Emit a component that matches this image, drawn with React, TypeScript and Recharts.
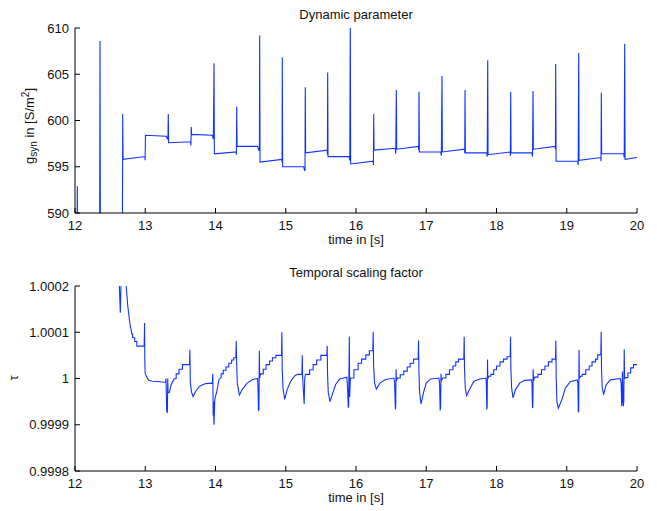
import React from "react";
import { LineChart, Line, XAxis, YAxis } from "recharts";

// two stacked panels: g_syn and tau over time, MATLAB-style boxed axes

const X_TICKS = [12, 13, 14, 15, 16, 17, 18, 19, 20];
const GSYN_TICKS = [590, 595, 600, 605, 610];
const TAU_TICKS = [0.9998, 0.9999, 1, 1.0001, 1.0002];

// [time s, g_syn S/m^2]
const gsynPoints: [number, number][] = [
  [12.0, 584], [12.028, 584], [12.033, 592.9], [12.038, 584],
  [12.35, 584], [12.356, 608.6], [12.362, 584],
  [12.674, 584], [12.679, 600.7], [12.684, 595.8],
  [12.995, 596.1], [12.998, 595.7], [13.003, 598.4],
  [13.3, 598.3], [13.315, 598.0], [13.323, 598.0], [13.328, 600.7], [13.333, 597.6],
  [13.645, 597.7], [13.65, 597.3], [13.655, 599.3], [13.66, 598.5],
  [13.955, 598.4], [13.97, 598.0], [13.979, 606.2], [13.984, 596.4],
  [14.295, 596.6], [14.298, 596.3], [14.302, 601.5], [14.307, 597.2],
  [14.6, 597.2], [14.615, 596.8], [14.625, 596.8], [14.629, 609.2], [14.634, 595.5],
  [14.945, 595.8], [14.948, 595.5], [14.951, 606.8], [14.956, 595.0],
  [15.255, 595.0], [15.268, 594.6], [15.274, 594.6], [15.278, 603.6], [15.283, 596.5],
  [15.59, 596.8], [15.593, 596.3], [15.597, 605.2], [15.602, 596.1],
  [15.9, 596.1], [15.912, 595.7], [15.919, 611], [15.924, 595.3],
  [16.245, 595.6], [16.248, 595.2], [16.252, 600.7], [16.257, 596.8],
  [16.56, 597.0], [16.566, 596.4], [16.574, 603.3], [16.579, 596.9],
  [16.89, 597.2], [16.893, 596.8], [16.897, 603.1], [16.902, 596.6],
  [17.205, 596.6], [17.215, 596.2], [17.224, 604.8], [17.229, 596.6],
  [17.545, 596.9], [17.548, 596.5], [17.552, 603.3], [17.557, 596.5],
  [17.86, 596.5], [17.868, 596.1], [17.875, 606.5], [17.88, 596.3],
  [18.195, 596.6], [18.198, 596.2], [18.202, 603.1], [18.207, 596.5],
  [18.505, 596.5], [18.513, 596.1], [18.52, 603.2], [18.525, 596.9],
  [18.835, 597.2], [18.839, 596.9], [18.843, 606.1], [18.848, 595.6],
  [19.155, 595.6], [19.163, 595.2], [19.17, 607.3], [19.175, 595.7],
  [19.485, 596.0], [19.488, 595.6], [19.492, 603.0], [19.497, 596.4],
  [19.81, 596.4], [19.818, 596.0], [19.825, 608.3], [19.83, 595.8],
  [20.0, 596.0],
];

// [time s, tau]
const tauPoints: [number, number][] = [
  [12.0, 1.0004], [12.62, 1.0003], [12.632, 1.0002], [12.645, 1.000142], [12.655, 1.0002],
  [12.665, 1.0003], [12.715, 1.0003], [12.728, 1.0002], [12.75, 1.000159], [12.78, 1.00012],
  [12.81, 1.000096], [12.82, 1.000096], [12.82, 1.000088], [12.85, 1.000088], [12.85, 1.00008],
  [12.88, 1.00008], [12.88, 1.00007], [12.985, 1.00007],
  [12.99, 1.00012], [12.994, 1.00004], [12.998, 1.000012], [13.02, 1.000003], [13.05, 0.999996],
  [13.1, 0.999994], [13.29, 0.999992],
  [13.295, 1.0], [13.305, 0.99993], [13.315, 0.999926], [13.32, 1.0], [13.325, 0.99997],
  [13.34, 0.999969], [13.37, 0.999987], [13.41, 0.999999], [13.44, 1.0], [13.44, 1.00001],
  [13.48, 1.00001], [13.48, 1.00002], [13.53, 1.00002], [13.53, 1.00003], [13.63, 1.00003],
  [13.635, 1.000062], [13.642, 0.99999], [13.66, 0.99997], [13.68, 0.999961], [13.72, 0.999973],
  [13.78, 0.999984], [13.86, 0.999989], [13.955, 0.99999],
  [13.962, 1.00001], [13.967, 0.99992], [13.972, 0.99995], [13.978, 0.9999], [13.984, 0.999925],
  [13.99, 0.999955], [14.02, 0.999973], [14.05, 0.999998], [14.08, 1.000002], [14.08, 1.00001],
  [14.11, 1.00001], [14.11, 1.000018], [14.15, 1.000018], [14.15, 1.000025], [14.19, 1.000025],
  [14.19, 1.000033], [14.23, 1.000033], [14.23, 1.00004], [14.26, 1.00004], [14.26, 1.000045],
  [14.29, 1.000045],
  [14.295, 1.000081], [14.3, 1.00004], [14.31, 0.99999], [14.34, 0.999964], [14.38, 0.999976],
  [14.45, 0.99999], [14.53, 0.999998], [14.6, 1.0],
  [14.605, 0.99998], [14.612, 0.99993], [14.618, 0.999934], [14.624, 1.00006], [14.628, 1.0],
  [14.64, 1.00001], [14.68, 1.00001], [14.68, 1.00002], [14.72, 1.00002], [14.72, 1.00003],
  [14.77, 1.00003], [14.77, 1.000038], [14.81, 1.000038], [14.81, 1.000045], [14.86, 1.000045],
  [14.86, 1.00005], [14.94, 1.00005],
  [14.945, 1.0001], [14.95, 1.00002], [14.96, 0.99998], [14.985, 0.999955], [15.02, 0.999976],
  [15.07, 0.999994], [15.13, 1.000006], [15.17, 1.000009], [15.23, 1.000009],
  [15.235, 1.00005], [15.24, 1.000005], [15.262, 0.999945], [15.27, 1.0], [15.28, 1.000009],
  [15.34, 1.000009], [15.34, 1.000019], [15.39, 1.000019], [15.39, 1.00003], [15.44, 1.00003],
  [15.44, 1.00004], [15.5, 1.00004], [15.5, 1.00005], [15.585, 1.00005],
  [15.59, 1.00007], [15.595, 1.00001], [15.605, 0.99997], [15.63, 0.99995], [15.67, 0.999969],
  [15.71, 0.999987], [15.77, 0.999999], [15.87, 1.000003],
  [15.88, 0.99998], [15.89, 0.999937], [15.895, 0.99994], [15.905, 1.00009], [15.91, 0.99996],
  [15.92, 1.000001], [15.97, 1.000001], [15.97, 1.000019], [16.03, 1.000019], [16.03, 1.000033],
  [16.08, 1.000033], [16.08, 1.000042], [16.14, 1.000042], [16.14, 1.000051], [16.19, 1.000051],
  [16.19, 1.00006], [16.24, 1.00006],
  [16.245, 1.000101], [16.25, 1.00003], [16.265, 0.99999], [16.29, 0.999977], [16.34, 0.99999],
  [16.42, 0.999998], [16.54, 1.000001],
  [16.55, 0.99999], [16.56, 0.999933], [16.565, 0.99994], [16.57, 1.00002], [16.575, 0.999995],
  [16.59, 1.000001], [16.63, 1.000001], [16.63, 1.000008], [16.68, 1.000008], [16.68, 1.000016],
  [16.73, 1.000016], [16.73, 1.000025], [16.77, 1.000025], [16.77, 1.000033], [16.82, 1.000033],
  [16.82, 1.000042], [16.885, 1.000042],
  [16.89, 1.000082], [16.895, 1.00002], [16.905, 0.99997], [16.925, 0.999945], [16.96, 0.999969],
  [17.0, 0.99999], [17.06, 0.999999], [17.18, 1.000001],
  [17.19, 0.99999], [17.198, 0.999931], [17.205, 0.99994], [17.21, 1.00001], [17.215, 0.999995],
  [17.235, 1.000001], [17.28, 1.000001], [17.28, 1.000009], [17.33, 1.000009], [17.33, 1.000019],
  [17.38, 1.000019], [17.38, 1.000027], [17.42, 1.000027], [17.42, 1.000036], [17.46, 1.000036],
  [17.46, 1.000042], [17.535, 1.000042],
  [17.54, 1.00009], [17.545, 1.00002], [17.555, 0.99998], [17.575, 0.999963], [17.62, 0.999978],
  [17.68, 0.999994], [17.76, 0.999999], [17.85, 1.000001],
  [17.855, 0.99999], [17.862, 0.999933], [17.867, 0.99994], [17.872, 1.000041], [17.877, 1.0],
  [17.89, 1.000005], [17.92, 1.000005], [17.92, 1.000009], [17.96, 1.000009], [17.96, 1.000019],
  [18.0, 1.000019], [18.0, 1.000027], [18.05, 1.000027], [18.05, 1.000036], [18.1, 1.000036],
  [18.1, 1.000042], [18.15, 1.000042], [18.15, 1.000047], [18.195, 1.000047],
  [18.2, 1.00009], [18.205, 1.00002], [18.215, 0.99998], [18.235, 0.999958], [18.27, 0.999976],
  [18.33, 0.99999], [18.4, 0.999996], [18.5, 0.999997],
  [18.505, 0.99999], [18.512, 0.999936], [18.517, 0.99994], [18.522, 1.00002], [18.527, 0.999995],
  [18.545, 1.000003], [18.59, 1.000003], [18.59, 1.000009], [18.64, 1.000009], [18.64, 1.000019],
  [18.69, 1.000019], [18.69, 1.000027], [18.74, 1.000027], [18.74, 1.000036], [18.79, 1.000036],
  [18.79, 1.000042], [18.84, 1.000042],
  [18.845, 1.000082], [18.85, 1.0], [18.86, 0.99995], [18.88, 0.999936], [18.93, 0.999954],
  [18.98, 0.999979], [19.05, 0.999993], [19.15, 0.999997],
  [19.158, 0.99999], [19.165, 0.999927], [19.17, 0.99993], [19.175, 1.000062], [19.18, 1.0],
  [19.195, 1.000005], [19.22, 1.000005], [19.22, 1.000009], [19.27, 1.000009], [19.27, 1.000019],
  [19.32, 1.000019], [19.32, 1.000027], [19.36, 1.000027], [19.36, 1.000036], [19.41, 1.000036],
  [19.41, 1.000042], [19.44, 1.000042], [19.44, 1.000051], [19.485, 1.000051],
  [19.49, 1.000101], [19.495, 1.00002], [19.505, 0.99998], [19.525, 0.999965], [19.56, 0.999986],
  [19.62, 0.999997], [19.76, 1.0],
  [19.775, 0.99999], [19.782, 0.99994], [19.787, 0.99995], [19.792, 1.000015], [19.797, 0.99998],
  [19.805, 0.99994], [19.812, 0.99995], [19.818, 1.000063], [19.823, 1.0], [19.84, 1.000002],
  [19.87, 1.000002], [19.87, 1.000012], [19.91, 1.000012], [19.91, 1.000023], [19.95, 1.000023],
  [19.95, 1.00003], [20.0, 1.00003],
];

const FONT = "'Liberation Sans', Arial, Helvetica, sans-serif";
const LINE_BLUE = "#1133ff";
const tickText = { fontSize: 13, fill: "#111", fontFamily: FONT };

interface PanelProps {
  points: [number, number][];
  yDomain: [number, number];
  yTicks: number[];
  fmt?: (v: number) => string;
  height: number;
  bottom: number;
}

function Panel({ points, yDomain, yTicks, fmt, height, bottom }: PanelProps) {
  const data = points.map(([t, v]) => ({ t, v }));
  return (
    <LineChart
      width={657}
      height={height}
      data={data}
      margin={{ top: 28, right: 20, bottom, left: 25 }}
    >
      <XAxis
        dataKey="t"
        type="number"
        domain={[12, 20]}
        ticks={X_TICKS}
        interval={0}
        allowDataOverflow
        height={30}
        tickSize={-5}
        tickMargin={13}
        axisLine={{ stroke: "#000" }}
        tickLine={{ stroke: "#000" }}
        tick={tickText}
      />
      <XAxis
        xAxisId="top"
        orientation="top"
        dataKey="t"
        type="number"
        domain={[12, 20]}
        ticks={X_TICKS}
        interval={0}
        allowDataOverflow
        height={0}
        tickSize={-5}
        axisLine={{ stroke: "#000" }}
        tickLine={{ stroke: "#000" }}
        tick={false}
      />
      <YAxis
        type="number"
        domain={yDomain}
        ticks={yTicks}
        interval={0}
        allowDataOverflow
        width={50}
        tickSize={-5}
        tickMargin={11}
        tickFormatter={fmt}
        axisLine={{ stroke: "#000" }}
        tickLine={{ stroke: "#000" }}
        tick={tickText}
      />
      <YAxis
        yAxisId="right"
        orientation="right"
        type="number"
        domain={yDomain}
        ticks={yTicks}
        interval={0}
        allowDataOverflow
        width={0}
        tickSize={-5}
        axisLine={{ stroke: "#000" }}
        tickLine={{ stroke: "#000" }}
        tick={false}
      />
      <Line
        type="linear"
        dataKey="v"
        stroke={LINE_BLUE}
        strokeWidth={1.1}
        dot={false}
        activeDot={false}
        isAnimationActive={false}
      />
    </LineChart>
  );
}

const tauFmt = (v: number) => String(Number(v.toFixed(4)));

export default function App() {
  return (
    <div style={{ position: "absolute", left: 0, top: 0, width: 657, height: 511, background: "#fff", overflow: "hidden" }}>
      <div style={{ position: "absolute", left: 0, top: 0 }}>
        <Panel points={gsynPoints} yDomain={[590, 610]} yTicks={GSYN_TICKS} height={255} bottom={12} />
      </div>
      <div style={{ position: "absolute", left: 0, top: 258 }}>
        <Panel points={tauPoints} yDomain={[0.9998, 1.0002]} yTicks={TAU_TICKS} fmt={tauFmt} height={253} bottom={10} />
      </div>
      <svg
        width={657}
        height={511}
        style={{ position: "absolute", left: 0, top: 0, pointerEvents: "none" }}
        fontFamily={FONT}
        fontSize={13}
        fill="#111"
      >
        <text x={356} y={18.5} textAnchor="middle">Dynamic parameter</text>
        <text x={356} y={244} textAnchor="middle">time in [s]</text>
        <text transform="translate(34,126) rotate(-90)" textAnchor="middle">
          g<tspan dy={3} fontSize={10}>syn</tspan>
          <tspan dy={-3}> in [S/m</tspan>
          <tspan dy={-5} fontSize={10}>2</tspan>
          <tspan dy={5}>]</tspan>
        </text>
        <text x={356} y={276.5} textAnchor="middle">Temporal scaling factor</text>
        <text x={356} y={502} textAnchor="middle">time in [s]</text>
        <text transform="translate(18,378) rotate(-90)" textAnchor="middle">τ</text>
      </svg>
    </div>
  );
}
